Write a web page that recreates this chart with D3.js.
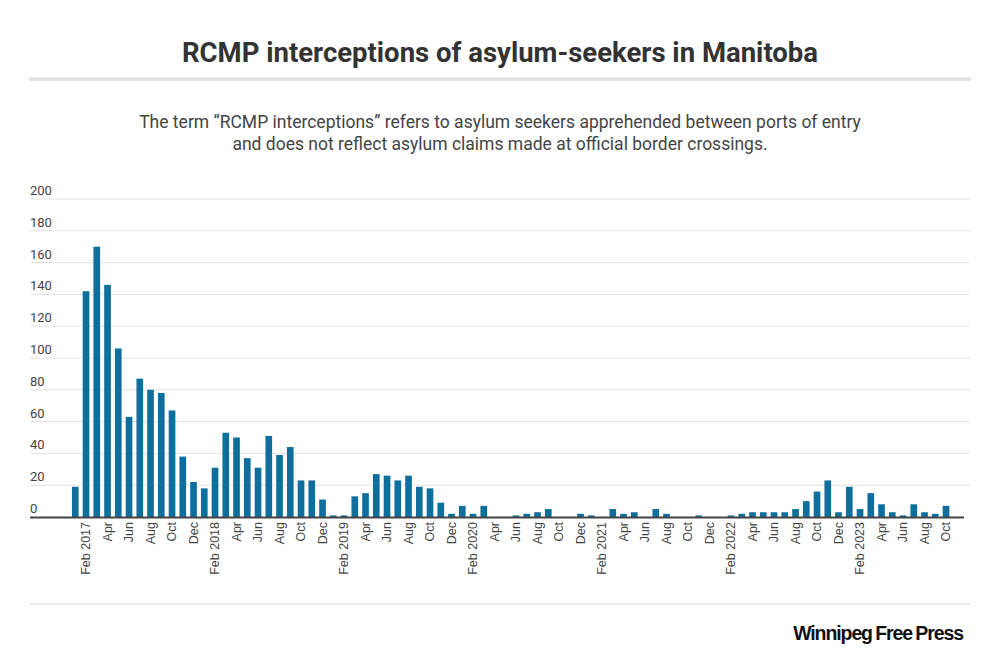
<!DOCTYPE html>
<html>
<head>
<meta charset="utf-8">
<script src="https://cdn.jsdelivr.net/npm/d3@7"></script>
<style>
  body { margin: 0; background: #fff; }
  svg { display: block; }
</style>
</head>
<body>
<svg id="chart" width="1000" height="666"></svg>
<script>
// monthly RCMP interceptions, Jan 2017 - Oct 2023
const months = [
  '2017-01','2017-02','2017-03','2017-04','2017-05','2017-06','2017-07','2017-08','2017-09','2017-10','2017-11','2017-12',
  '2018-01','2018-02','2018-03','2018-04','2018-05','2018-06','2018-07','2018-08','2018-09','2018-10','2018-11','2018-12',
  '2019-01','2019-02','2019-03','2019-04','2019-05','2019-06','2019-07','2019-08','2019-09','2019-10','2019-11','2019-12',
  '2020-01','2020-02','2020-03','2020-04','2020-05','2020-06','2020-07','2020-08','2020-09','2020-10','2020-11','2020-12',
  '2021-01','2021-02','2021-03','2021-04','2021-05','2021-06','2021-07','2021-08','2021-09','2021-10','2021-11','2021-12',
  '2022-01','2022-02','2022-03','2022-04','2022-05','2022-06','2022-07','2022-08','2022-09','2022-10','2022-11','2022-12',
  '2023-01','2023-02','2023-03','2023-04','2023-05','2023-06','2023-07','2023-08','2023-09','2023-10'
]
const interceptions = [
  19, 142, 170, 146, 106, 63, 87, 80, 78, 67, 38, 22,
  18, 31, 53, 50, 37, 31, 51, 39, 44, 23, 23, 11,
  1, 1, 13, 15, 27, 26, 23, 26, 19, 18, 9, 2,
  7, 2, 7, 0, 0, 1, 2, 3, 5, 0, 0, 2,
  1, 0, 5, 2, 3, 0, 5, 2, 0, 0, 1, 0,
  0, 1, 2, 3, 3, 3, 3, 5, 10, 16, 23, 3,
  19, 5, 15, 8, 3, 1, 8, 3, 2, 7
]
const yTicks = [0, 20, 40, 60, 80, 100, 120, 140, 160, 180, 200]
const monthNames = ['Jan','Feb','Mar','Apr','May','Jun','Jul','Aug','Sep','Oct','Nov','Dec']

const title = 'RCMP interceptions of asylum-seekers in Manitoba'
const subtitle = [
  'The term \u201cRCMP interceptions\u201d refers to asylum seekers apprehended between ports of entry',
  'and does not reflect asylum claims made at official border crossings.'
]

const svg = d3.select('#chart')
const W = 1000

// header
svg.append('text')
  .attr('x', W / 2).attr('y', 62)
  .attr('text-anchor', 'middle')
  .style('font-family', 'Roboto, sans-serif')
  .style('font-weight', 700)
  .style('font-size', '27.5px')
  .style('fill', '#333')
  .text(title)

svg.append('rect')
  .attr('x', 29).attr('y', 77)
  .attr('width', 942).attr('height', 4)
  .attr('fill', '#e3e3e3')

svg.selectAll('text.sub')
  .data(subtitle)
  .enter()
  .append('text')
  .attr('class', 'sub')
  .attr('x', W / 2)
  .attr('y', (d, i) => 128 + i * 21.5)
  .attr('text-anchor', 'middle')
  .style('font-family', 'Roboto, sans-serif')
  .style('font-size', '17.5px')
  .style('fill', '#444')
  .text(d => d)

// scales
const x = d3.scaleBand()
  .domain(months)
  .range([69.9, 951.4])
  .paddingInner(0.38)
  .paddingOuter(0.19)

const y = d3.scaleLinear()
  .domain([0, 200])
  .range([517, 199])

// gridlines + y labels
const grid = svg.append('g').classed('grid', true)
grid.selectAll('line')
  .data(yTicks.filter(d => d > 0))
  .enter()
  .append('line')
  .attr('x1', 30).attr('x2', 970)
  .attr('y1', d => y(d)).attr('y2', d => y(d))
  .attr('stroke', '#e2e2e2')
  .attr('stroke-width', 1)

grid.selectAll('text')
  .data(yTicks)
  .enter()
  .append('text')
  .attr('x', 30)
  .attr('y', d => y(d) - 4)
  .style('font-family', 'Roboto, sans-serif')
  .style('font-size', '13px')
  .style('fill', '#444')
  .text(d => d)

// bars
svg.append('g')
  .classed('bars', true)
  .selectAll('rect')
  .data(interceptions)
  .enter()
  .append('rect')
  .attr('x', (d, i) => x(months[i]))
  .attr('y', d => y(d))
  .attr('width', x.bandwidth())
  .attr('height', d => y(0) - y(d))
  .attr('fill', '#0f6f9c')

// baseline
svg.append('line')
  .attr('x1', 30).attr('x2', 964)
  .attr('y1', y(0) + 0.5).attr('y2', y(0) + 0.5)
  .attr('stroke', '#444')
  .attr('stroke-width', 2)

// x axis labels every second month
const xAxis = d3.axisBottom(x)
  .tickValues(months.filter((d, i) => i % 2 === 1))
  .tickSize(0)
  .tickFormat(d => {
    const [yr, mo] = d.split('-')
    const name = monthNames[+mo - 1]
    return name === 'Feb' ? `${name} ${yr}` : name
  })

const gx = svg.append('g')
  .attr('transform', `translate(0,${y(0)})`)
  .call(xAxis)
gx.select('.domain').remove()
gx.selectAll('text')
  .attr('transform', 'rotate(-90)')
  .attr('x', -5)
  .attr('y', 0)
  .attr('dy', '0.35em')
  .attr('text-anchor', 'end')
  .style('font-family', '"Liberation Sans", Arial, sans-serif')
  .style('font-size', '12.5px')
  .style('fill', '#444')

// footer
svg.append('rect')
  .attr('x', 29).attr('y', 603)
  .attr('width', 942).attr('height', 2)
  .attr('fill', '#ececec')

svg.append('text')
  .attr('x', 963).attr('y', 640)
  .attr('text-anchor', 'end')
  .style('font-family', '"Liberation Sans Narrow", "Liberation Sans", sans-serif')
  .style('font-weight', 700)
  .style('font-size', '19.5px')
  .style('letter-spacing', '-1.1px')
  .style('word-spacing', '-1px')
  .style('fill', '#111')
  .text('Winnipeg Free Press')
</script>
</body>
</html>
